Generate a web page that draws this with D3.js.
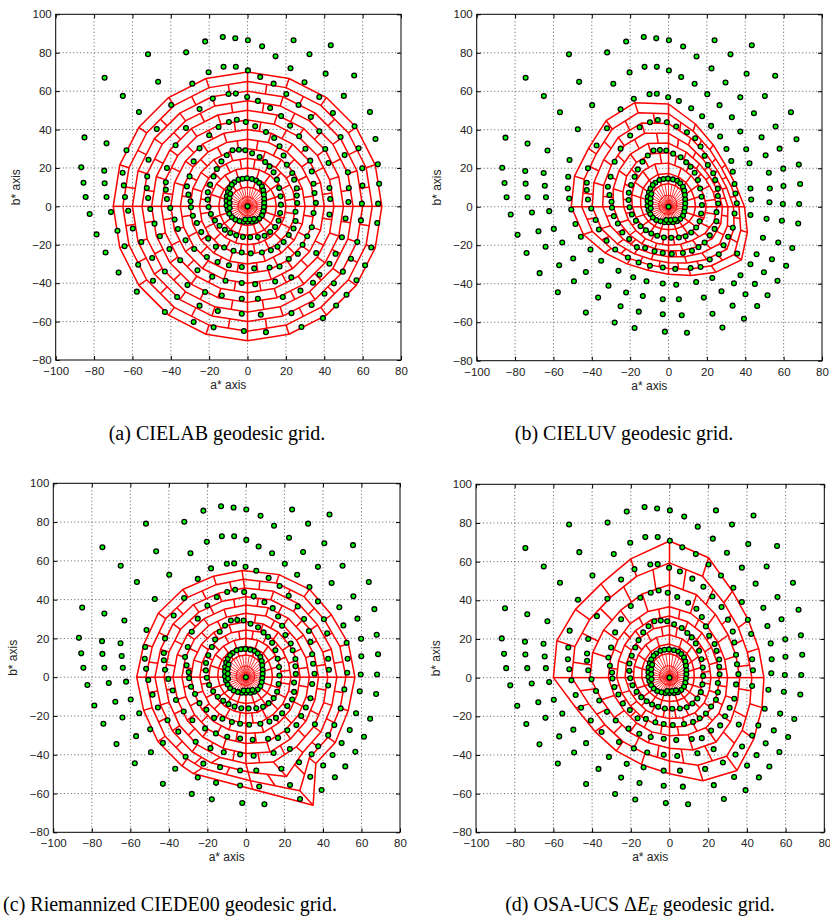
<!DOCTYPE html>
<html>
<head>
<meta charset="utf-8">
<script src="https://cdn.jsdelivr.net/npm/d3@7"></script>
<style>
  body { margin: 0; background: #fff; }
  svg text { font-family: "Liberation Sans", Arial, sans-serif; fill: #222; }
  .cap { font-family: "Liberation Serif", "DejaVu Serif", serif; fill: #000; }
</style>
</head>
<body>
<svg id="fig" width="830" height="922"></svg>
<script>
// axis ticks
const xTicks = [-100, -80, -60, -40, -20, 0, 20, 40, 60, 80];
const yTicks = [-80, -60, -40, -20, 0, 20, 40, 60, 80, 100];

// Munsell samples (a*, b*) - same in all four panels
const chroma2 = [[-6.9,12.5],[-4.7,13.9],[-2.6,14.4],[-0.3,14.6],[2.3,14.2],[4.5,13.5],[6.1,12.2],[7.5,10.4],
  [8.2,8.3],[8.5,6.1],[8.7,3.8],[8.7,1.7],[8.5,-0.5],[8.2,-2.6],[7.5,-4.7],[6.1,-6.4],[4.3,-7.5],[2.3,-8],
  [0,-8],[-2.1,-8],[-4.2,-7.6],[-6.4,-6.9],[-8.2,-5.6],[-9.5,-3.8],[-10.4,-1.7],[-10.9,0.5],[-10.9,2.8],
  [-10.8,5.2],[-10.2,7.5],[-9.4,9.5],[-8.2,11.3],[-9.3,-0.8],[-9.4,1.8],[-9.4,4.3],[-9,6.6],[-1.2,-6.9],
  [1.2,-6.9],[3.4,-6.6]];

const chroma4 = [[-13.6,23.4],[-10.8,26.6],[-7.8,29.2],[-4.5,29.5],[-1.2,29.2],[2.4,27.6],[6.3,25.7],[9.2,23.1],
  [11.5,20.8],[13.6,17.7],[15.3,13.9],[16.5,9.5],[17.2,5.2],[17.4,0.9],[17,-3.5],[16.2,-7.5],[14.4,-10.8],
  [11.8,-13.4],[8.9,-15.3],[5.4,-16],[1.4,-16.1],[-2.4,-16],[-5.9,-15.1],[-9,-13.9],[-11.8,-12.2],[-14.6,-10.1],
  [-17,-7.3],[-19.1,-4],[-20.3,-0.3],[-20.8,3.5],[-20.7,7.3],[-19.5,11.3],[-17.7,15.6],[-16,19.4]];

const samples = [[-12.9,88.2],[-6.4,87.5],[0.2,86.5],[-22.1,85.9],[24,86.5],[43.4,83.9],[7.6,83.3],[-32,80.2],
  [-51.9,79.2],[32.3,79.2],[14.6,78.1],[-12.5,72.7],[-6.1,72.7],[22.4,71.9],[0.2,70.8],[-20.3,69.8],[40.7,69.1],
  [55.6,68.1],[-74.5,67],[6.6,67.4],[-46.6,64.9],[-28.8,63.9],[29.7,64.6],[13.6,63.9],[-65,57.5],[50.2,57.5],
  [37.4,56.9],[-9.9,58.5],[-6.1,58.7],[-0.2,56.9],[-18.1,56.1],[20.2,58.5],[-39.8,52.8],[5.4,54.9],[26.6,52.8],
  [-25,50.7],[11.8,51.2],[-56.6,49.1],[63.8,49.1],[44.5,48.6],[17.5,47],[33,46.5],[-5.6,45.1],[-0.9,43.9],
  [-9.7,43.9],[4,41.7],[-15.1,41.3],[-32.1,40.8],[-47.3,40.3],[22.2,42],[37.4,39.1],[9.6,38.7],[55.8,41.7],
  [-20,37],[26.9,36.5],[48.5,36.1],[-85,35.9],[66.7,35.1],[-73.5,32.8],[-37.5,31.8],[13.9,35.6],[16.7,31.3],
  [40.5,29.9],[57.9,30.2],[-63.1,29.2],[-25,30.2],[30.2,30],[50.6,26.7],[-28.1,23.4],[32.7,23.8],[42.2,22.6],
  [59.8,19.8],[67.9,21.9],[-51.6,24.3],[-42,20],[-86.7,20.3],[-74.7,18.6],[-65.1,17.5],[20.5,21.7],[23.3,17.4],
  [33.5,18.2],[52.3,17.7],[-30.2,15.6],[-52.3,15.6],[-42.6,12.5],[-52.5,9.5],[-42.6,8.7],[-51.8,4.3],[-42,3.8],
  [-85.5,12.3],[-74.5,12],[-64.5,10.9],[68.6,11.8],[59.9,10.8],[52.8,9.5],[42.7,9.5],[34.4,11.8],[43.1,3.8],
  [52.6,2.3],[59.6,1.4],[68.1,1.4],[-84.4,4.9],[-73.5,4.9],[-63.9,4.9],[-31.6,10.4],[-30.8,6.1],[-29.7,2.6],
  [-40.3,-0.9],[-50.7,-1.4],[-62.2,-2.3],[-71.2,-3],[-82.3,-4],[42.7,-4.3],[34.4,-3.5],[25,-2.8],[51.1,-6.3],
  [59.1,-7.3],[67.6,-8.7],[-48.5,-9],[-38,-6.9],[-28.5,-4.9],[-26.4,-8.7],[-59.8,-11.5],[-36.3,-11.8],
  [-67.8,-12.7],[33.5,-10.9],[-78.7,-14.6],[-45.7,-15.6],[-32.3,-17.7],[-24.1,-13.4],[-20.5,-16.8],[-55.4,-18.6],
  [49.2,-16.1],[57.2,-18.6],[64.5,-21.4],[-40.7,-22.2],[-27.8,-22.2],[-64.1,-20.8],[21.5,-14.9],[24,-11.5],
  [31.1,-15.6],[35.8,-24.3],[45.9,-24.7],[-74,-24],[-16.5,-21],[28.7,-20],[-49.7,-26.9],[-35.1,-28.1],
  [-21.2,-26.4],[-15.6,-29],[-9.7,-30.7],[-3,-31.6],[3.5,-32.3],[11.5,-31.8],[16.7,-31.3],[21.5,-27.4],
  [26.2,-24.7],[42.7,-29.9],[53.9,-27.3],[61.3,-30.7],[-57,-30.4],[-67.2,-34.5],[-43.1,-33.9],[-26.1,-33.3],
  [37.5,-35.6],[49.7,-34],[-49.3,-38.7],[-31.3,-41],[-18.4,-36.6],[-11.5,-38.7],[-3,-39.9],[4,-40.5],
  [14.4,-39.1],[22.8,-37],[34.1,-39.8],[45,-40.1],[56.8,-38.5],[-57.7,-44.4],[-22.1,-44.6],[-13.4,-46.4],
  [27.6,-43.9],[40.1,-45.5],[51.6,-46],[-36.7,-47.2],[-3,-48.1],[5.4,-48.1],[18.4,-47.2],[-25,-51.7],
  [-15.5,-54.5],[33.4,-51.4],[46.2,-51.6],[-43.1,-55],[-3,-55.9],[6.9,-56.4],[22.9,-55.6],[-28.1,-60.2],
  [39.3,-58.2],[-17.7,-63],[28.1,-62.8],[-1.9,-64.9],[9.6,-65.5],
  [-12.2,-21.4],[-7.3,-23.1],[-3,-24],[1.7,-24.5],[7.5,-24],[12.2,-22.9],[15.6,-21],[18.8,-18.6],[25,-7.6],
  [25.9,1.7],[25.7,5.6],[25.7,9.4],[24.3,13.9],[18.8,26.5],[-29.5,-0.5],[34.9,6.9],[35.6,1.8]];

// geodesic grids: (a) CIELAB rings are circles with these radii
const labRings = [5, 10, 15, 20, 25, 30, 35, 40, 45, 50, 55, 60, 65, 70];

// (b),(c),(d): ring radii / vertices along 20 spokes (ccw from +a*)
const luvInner = [8.5, 9, 10, 11, 11.5, 12, 12, 11.5, 11, 10.5, 10, 9.5, 9, 8.5, 8, 8, 8, 8, 8, 8.2];
const luvMid = [25.2, 24.5, 24, 24.5, 26, 28, 29, 28.5, 27, 25, 23.4, 22, 21, 20.5, 20, 20, 20.5, 21.5, 23.5, 25];
const luvOuter = [[39.6,0],[35,11.4],[29.7,21.6],[23.3,32.1],[14,43],[0,53.4],[-17.6,54.1],[-32.5,44.7],
  [-41.7,30.3],[-49,15.9],[-50.7,0],[-44.4,-14.4],[-33.1,-24],[-21.6,-29.7],[-10.7,-33],[0,-35.1],
  [11.6,-35.7],[24.7,-34],[38,-27.6],[41.1,-13.3]];

const de00Inner = [9, 9.3, 10, 10.8, 11.3, 11.5, 11.5, 11.2, 10.8, 10.4, 10, 9.6, 9.2, 8.8, 8.5, 8.4, 8.4, 8.5, 8.7, 8.9];
const de00Mid = [42.5, 42, 41.5, 42, 42, 41.5, 41, 41.5, 42, 42, 42.5, 42, 42.5, 43, 43.5, 44.5, 46, 44.5, 43.5, 42.5];
const de00Outer = [[56.6,0],[53.2,17.3],[44.4,32.2],[33,45.3],[17.2,52.9],[-2,55],[-16.8,52.1],[-32.8,45.2],
  [-45.5,33],[-53,17],[-56.7,0],[-53.1,-17.1],[-45.7,-33.2],[-33.2,-45.8],[-27.3,-49.7],[3.5,-57.8],
  [34.9,-66],[36.3,-44.5],[46.4,-33.7],[53.1,-17.3]];

const osaInner = [8.5, 9, 10, 11, 11.8, 12.5, 12.5, 12, 11.3, 10.6, 10, 9.4, 8.8, 8.3, 8, 8, 8, 8.1, 8.2, 8.3];
const osaMid = [30, 30, 31, 33, 35, 36.7, 36, 34.5, 33, 32, 31.6, 30, 29, 29, 29.5, 30, 31, 32, 31.5, 30.5];
const osaOuter = [[48.8,0],[46.1,15],[40.8,29.7],[32.5,44.7],[20.2,62],[0,70.7],[-20,61.4],[-35.4,48.5],
  [-48.6,35.3],[-58.2,19.1],[-60,0],[-48.3,-15.7],[-38.5,-27.9],[-27.5,-37.9],[-14.5,-44.9],[0,-49.7],
  [17.3,-53.3],[34.9,-48],[43.6,-31.7],[47.8,-15.5]];

const NS = 20;
const polar = radii => radii.map((r, j) => {
  const t = j * 2 * Math.PI / NS;
  return [r * Math.cos(t), r * Math.sin(t)];
});

const panels = [
  { x0: 55.7, y0: 14.3, w: 345.3, h: 345.7, N: labRings.length,
    shapes: labRings.map((r, i) => ({ k: i + 1, pts: polar(new Array(NS).fill(r)) })),
    cap: "(a) CIELAB geodesic grid.", cx: 217, cy: 440 },
  { x0: 476.7, y0: 14.3, w: 345.3, h: 346.4, N: 10,
    shapes: [{ k: 2, pts: polar(luvInner) }, { k: 5, pts: polar(luvMid) }, { k: 10, pts: luvOuter }],
    cap: "(b) CIELUV geodesic grid.", cx: 624, cy: 440 },
  { x0: 53.3, y0: 483.3, w: 346.7, h: 349, N: 12,
    shapes: [{ k: 2, pts: polar(de00Inner) }, { k: 9, pts: polar(de00Mid) }, { k: 12, pts: de00Outer }],
    cap: "(c) Riemannized CIEDE00 geodesic grid.", cx: 170, cy: 911 },
  { x0: 476, y0: 484.3, w: 348.3, h: 348, N: 10,
    shapes: [{ k: 2, pts: polar(osaInner) }, { k: 7, pts: polar(osaMid) }, { k: 10, pts: osaOuter }],
    cap: null, cx: 640, cy: 911 }
];

const svg = d3.select("#fig");

// point of ring k on spoke j, blending the read ring shapes
function gridPoint(p) {
  const s = p.shapes;
  return (k, j) => {
    j = j % NS;
    if (k <= s[0].k) { const q = s[0].pts[j]; return [q[0] * k / s[0].k, q[1] * k / s[0].k]; }
    let i = 0;
    while (i < s.length - 2 && k > s[i + 1].k) i++;
    const a = s[i].pts[j], b = s[i + 1].pts[j], t = (k - s[i].k) / (s[i + 1].k - s[i].k);
    return [a[0] + (b[0] - a[0]) * t, a[1] + (b[1] - a[1]) * t];
  };
}

const mid = (a, b) => [(a[0] + b[0]) / 2, (a[1] + b[1]) / 2];

panels.forEach(p => {
  const g = svg.append("g");
  const x = d3.scaleLinear().domain([-100, 80]).range([p.x0, p.x0 + p.w]);
  const y = d3.scaleLinear().domain([-80, 100]).range([p.y0 + p.h, p.y0]);

  // dotted grid
  g.append("g").selectAll("line").data(xTicks.slice(1, -1)).join("line")
    .attr("x1", d => x(d)).attr("x2", d => x(d)).attr("y1", p.y0).attr("y2", p.y0 + p.h)
    .attr("stroke", "#333").attr("stroke-width", 0.8).attr("stroke-dasharray", "1,2.5");
  g.append("g").selectAll("line").data(yTicks.slice(1, -1)).join("line")
    .attr("y1", d => y(d)).attr("y2", d => y(d)).attr("x1", p.x0).attr("x2", p.x0 + p.w)
    .attr("stroke", "#333").attr("stroke-width", 0.8).attr("stroke-dasharray", "1,2.5");

  // red geodesic grid
  const P = gridPoint(p);
  const line = d3.line().x(d => x(d[0])).y(d => y(d[1]));
  const ringLine = d3.line().x(d => x(d[0])).y(d => y(d[1])).curve(d3.curveLinearClosed);
  const red = g.append("g").attr("fill", "none").attr("stroke", "#ff0000").attr("stroke-linejoin", "round");

  // dense spokes at the centre
  const dense = d3.range(2 * NS).map(i => i % 2 === 0 ? [[0, 0], P(2, i / 2)]
    : [[0, 0], mid(P(2, (i - 1) / 2), P(2, (i + 1) / 2))]);
  red.append("g").selectAll("path").data(dense).join("path")
    .attr("d", line).attr("stroke-width", 0.8);

  const segs = [];
  for (let k = 2; k < p.N; k++) {
    const vert = (p.N - 1 - k) % 2 === 0;
    for (let j = 0; j < NS; j++) {
      if (k < 4 || vert || j % 5 === 0) segs.push([P(k, j), P(k + 1, j)]);
      if (k >= 4 && !vert) segs.push([mid(P(k, j), P(k, j + 1)), mid(P(k + 1, j), P(k + 1, j + 1))]);
    }
  }
  red.append("g").selectAll("path").data(segs).join("path")
    .attr("d", line).attr("stroke-width", 1.5);

  red.append("g").selectAll("path").data(d3.range(1, p.N + 1)).join("path")
    .attr("d", k => ringLine(d3.range(NS).map(j => P(k, j))))
    .attr("stroke-width", k => k === 1 ? 0.9 : 1.5);

  // samples
  const pts = chroma2.concat(chroma4, samples);
  g.append("g").selectAll("circle").data(pts).join("circle")
    .attr("cx", d => x(d[0])).attr("cy", d => y(d[1])).attr("r", 2.4)
    .attr("fill", "#00ff00").attr("stroke", "#000").attr("stroke-width", 1.3);
  g.append("circle").attr("cx", x(0)).attr("cy", y(0)).attr("r", 2.4)
    .attr("fill", "#00ff00").attr("stroke", "#000").attr("stroke-width", 1.3);

  // axes (MATLAB style: inward ticks, box)
  const ax = g.append("g").attr("transform", `translate(0,${p.y0 + p.h})`)
    .call(d3.axisBottom(x).tickValues(xTicks).tickSizeInner(-4).tickSizeOuter(0).tickPadding(7));
  const ay = g.append("g").attr("transform", `translate(${p.x0},0)`)
    .call(d3.axisLeft(y).tickValues(yTicks).tickSizeInner(-4).tickSizeOuter(0).tickPadding(4));
  const at = g.append("g").attr("transform", `translate(0,${p.y0})`)
    .call(d3.axisTop(x).tickValues(xTicks).tickSizeInner(-4).tickSizeOuter(0).tickFormat(""));
  const ar = g.append("g").attr("transform", `translate(${p.x0 + p.w},0)`)
    .call(d3.axisRight(y).tickValues(yTicks).tickSizeInner(-4).tickSizeOuter(0).tickFormat(""));
  [ax, ay, at, ar].forEach(a => {
    a.select(".domain").remove();
    a.selectAll("line").attr("stroke", "#000");
    a.selectAll("text").attr("font-size", "11.5px").attr("fill", "#222")
      .attr("font-family", "'Liberation Sans', Arial, sans-serif");
  });
  g.append("rect").attr("x", p.x0).attr("y", p.y0).attr("width", p.w).attr("height", p.h)
    .attr("fill", "none").attr("stroke", "#000").attr("stroke-width", 1);

  g.append("text").attr("x", p.x0 + p.w / 2).attr("y", p.y0 + p.h + 29)
    .attr("text-anchor", "middle").attr("font-size", "12px").text("a* axis");
  g.append("text").attr("transform", `translate(${p.x0 - 36},${p.y0 + p.h / 2}) rotate(-90)`)
    .attr("text-anchor", "middle").attr("font-size", "12px").text("b* axis");

  // caption
  const cap = svg.append("text").attr("class", "cap").attr("x", p.cx).attr("y", p.cy)
    .attr("text-anchor", "middle").attr("font-size", "20px");
  if (p.cap) cap.text(p.cap);
  else {
    cap.append("tspan").text("(d) OSA-UCS \u0394");
    cap.append("tspan").attr("font-style", "italic").text("E");
    cap.append("tspan").attr("font-style", "italic").attr("font-size", "14px").attr("dy", 4).text("E");
    cap.append("tspan").attr("dy", -4).text(" geodesic grid.");
  }
});
</script>
</body>
</html>
